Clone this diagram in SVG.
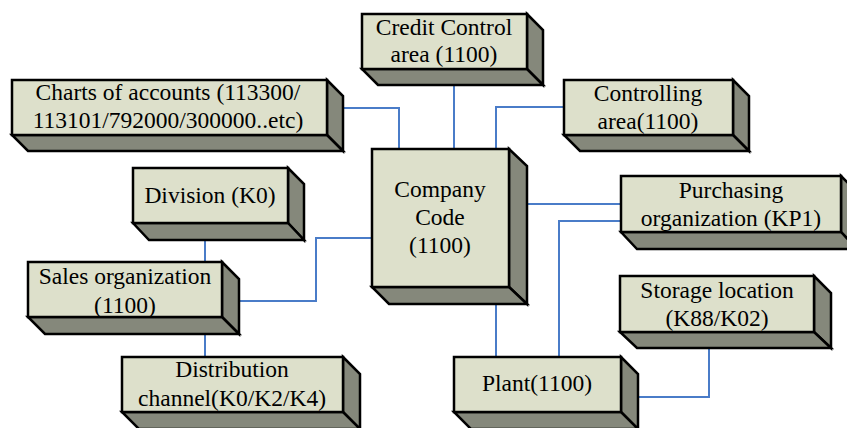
<svg xmlns="http://www.w3.org/2000/svg" width="847" height="428" viewBox="0 0 847 428">
  <style>
    .front { fill: #dde0cb; stroke: #000; stroke-width: 2.5; stroke-linejoin: miter; }
    .side { fill: #85887b; stroke: #000; stroke-width: 2.5; stroke-linejoin: miter; }
    .lbl { font-family: "Liberation Serif", "Times New Roman", serif; font-size: 23.5px; fill: #000; text-anchor: middle; }
    .link { fill: none; stroke: #4a7cc8; stroke-width: 2; }
  </style>
  <rect width="847" height="428" fill="#fff"/>

  <!-- connectors -->
  <g id="connectors">
    <polyline class="link" points="343,108 399,108 399,150"/>
    <polyline class="link" points="454,85 454,150"/>
    <polyline class="link" points="564,107 496,107 496,150"/>
    <polyline class="link" points="527,204 621,204"/>
    <polyline class="link" points="621,221 559,221 559,357"/>
    <polyline class="link" points="496,304 496,357"/>
    <polyline class="link" points="639,397 709,397 709,348"/>
    <polyline class="link" points="205,240 205,262"/>
    <polyline class="link" points="239,301 316,301 316,238 372,238"/>
    <polyline class="link" points="205,334 205,357"/>
  </g>

  <!-- Credit Control area -->
  <g id="credit-control">
    <polygon class="side" points="527,14 543,30 543,85 527,69"/>
    <polygon class="side" points="362,69 527,69 543,85 378,85"/>
    <rect class="front" x="362" y="14" width="165" height="55"/>
    <text class="lbl" x="444" y="35">Credit Control</text>
    <text class="lbl" x="444" y="62">area (1100)</text>
  </g>

  <!-- Charts of accounts -->
  <g id="charts-of-accounts">
    <polygon class="side" points="327,80 343,96 343,151 327,135"/>
    <polygon class="side" points="12,135 327,135 343,151 28,151"/>
    <rect class="front" x="12" y="80" width="315" height="55"/>
    <text class="lbl" x="168" y="100">Charts of accounts (113300/</text>
    <text class="lbl" x="168" y="128">113101/792000/300000..etc)</text>
  </g>

  <!-- Controlling area -->
  <g id="controlling-area">
    <polygon class="side" points="733,80 749,96 749,151 733,135"/>
    <polygon class="side" points="564,135 733,135 749,151 580,151"/>
    <rect class="front" x="564" y="80" width="169" height="55"/>
    <text class="lbl" x="648" y="101">Controlling</text>
    <text class="lbl" x="648" y="129">area(1100)</text>
  </g>

  <!-- Company Code -->
  <g id="company-code">
    <polygon class="side" points="509,149 527,166 527,304 509,287"/>
    <polygon class="side" points="372,287 509,287 527,304 389,304"/>
    <rect class="front" x="372" y="149" width="137" height="138"/>
    <text class="lbl" x="440" y="197">Company</text>
    <text class="lbl" x="440" y="225">Code</text>
    <text class="lbl" x="440" y="253">(1100)</text>
  </g>

  <!-- Division -->
  <g id="division">
    <polygon class="side" points="288,168 304,184 304,240 288,223"/>
    <polygon class="side" points="133,223 288,223 304,240 149,240"/>
    <rect class="front" x="133" y="168" width="155" height="55"/>
    <text class="lbl" x="210" y="203">Division (K0)</text>
  </g>

  <!-- Purchasing organization -->
  <g id="purchasing-org">
    <polygon class="side" points="841,176 857,192 857,249 841,232"/>
    <polygon class="side" points="621,232 841,232 857,249 637,249"/>
    <rect class="front" x="621" y="176" width="220" height="56"/>
    <text class="lbl" x="731" y="198">Purchasing</text>
    <text class="lbl" x="731" y="226">organization (KP1)</text>
  </g>

  <!-- Sales organization -->
  <g id="sales-org">
    <polygon class="side" points="222,262 239,279 239,334 222,317"/>
    <polygon class="side" points="28,317 222,317 239,334 45,334"/>
    <rect class="front" x="28" y="262" width="194" height="55"/>
    <text class="lbl" x="125" y="284">Sales organization</text>
    <text class="lbl" x="125" y="313">(1100)</text>
  </g>

  <!-- Storage location -->
  <g id="storage-location">
    <polygon class="side" points="814,276 831,293 831,348 814,332"/>
    <polygon class="side" points="620,332 814,332 831,348 637,348"/>
    <rect class="front" x="620" y="276" width="194" height="56"/>
    <text class="lbl" x="717" y="298">Storage location</text>
    <text class="lbl" x="717" y="326">(K88/K02)</text>
  </g>

  <!-- Distribution channel -->
  <g id="distribution-channel">
    <polygon class="side" points="343,357 360,374 360,429 343,412"/>
    <polygon class="side" points="122,412 343,412 360,429 139,429"/>
    <rect class="front" x="122" y="357" width="221" height="55"/>
    <text class="lbl" x="232" y="377">Distribution</text>
    <text class="lbl" x="232" y="406">channel(K0/K2/K4)</text>
  </g>

  <!-- Plant -->
  <g id="plant">
    <polygon class="side" points="621,357 638,374 638,429 621,412"/>
    <polygon class="side" points="454,412 621,412 638,429 471,429"/>
    <rect class="front" x="454" y="357" width="167" height="55"/>
    <text class="lbl" x="537" y="391">Plant(1100)</text>
  </g>
</svg>
